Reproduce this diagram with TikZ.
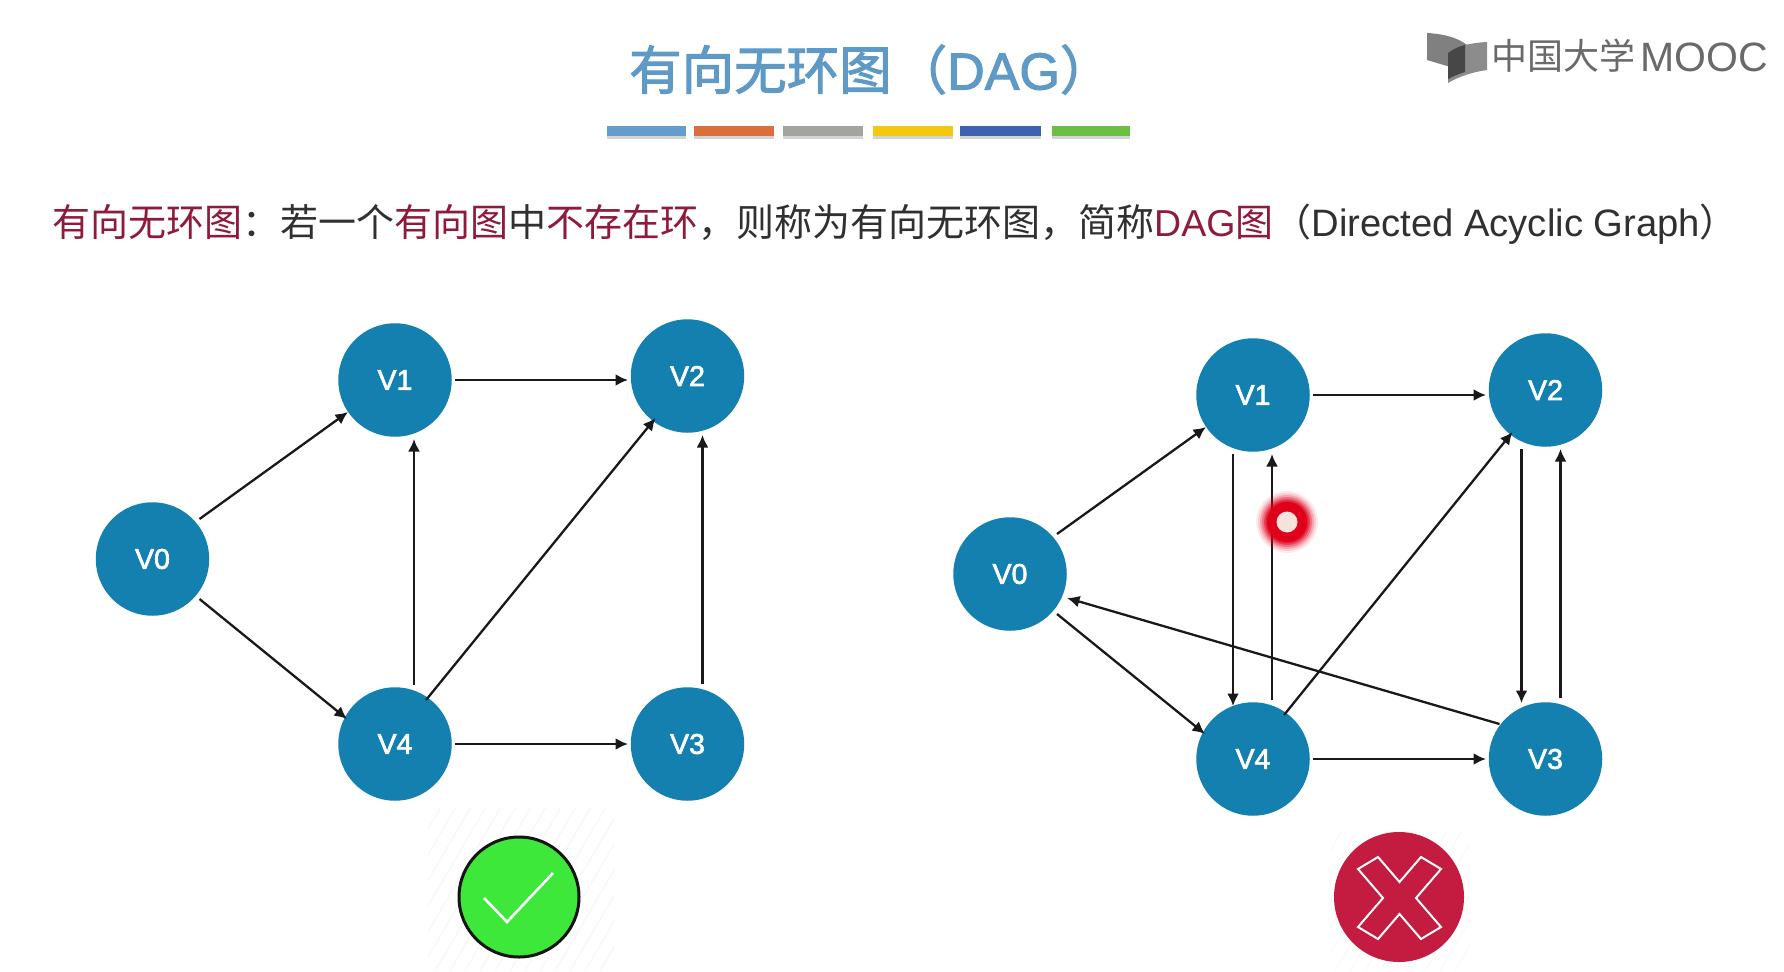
\documentclass[tikz,border=0pt]{standalone}
\usepackage{fontspec}
\setmainfont{Noto Sans CJK SC}
\newfontfamily\lat{Liberation Sans}
\newfontfamily\latmid[FakeBold=2.2]{Liberation Sans}
\newfontfamily\headcjk[FakeBold=2]{Noto Sans CJK SC}
\newfontfamily\headlat[FakeBold=2]{Liberation Sans}
\usetikzlibrary{arrows.meta,calc}
\definecolor{nodeblue}{HTML}{1380B0}
\definecolor{titleblue}{HTML}{5F9AC6}
\definecolor{keyred}{HTML}{8E1B3C}
\definecolor{bodyink}{HTML}{303030}
\definecolor{logogray}{HTML}{6A6A6A}
\definecolor{barA}{HTML}{659CCB}
\definecolor{barB}{HTML}{D86F3C}
\definecolor{barC}{HTML}{A3A3A0}
\definecolor{barD}{HTML}{F2C811}
\definecolor{barE}{HTML}{3F62B0}
\definecolor{barF}{HTML}{6CBF44}
\definecolor{okgreen}{HTML}{3DE83A}
\definecolor{badred}{HTML}{C41B40}
\definecolor{pointerred}{HTML}{E0001A}
\definecolor{pointercore}{HTML}{F5E2DA}
\tikzset{
  vertex/.style={circle,fill=nodeblue,minimum size=113.5pt,inner sep=0pt,outer sep=0pt,text=white,font=\latmid\fontsize{28.5}{30}\selectfont},
  edgeline/.style={draw=black!90,line width=2.3pt,-{Latex[length=12.5pt,width=12pt]}}
}
\newcommand{\barpiece}[3]{%
  \fill[black!30,opacity=.55] (#1,128) rectangle (#2,139);
  \fill[#3] (#1,126) rectangle (#2,136);
}
\begin{document}
\begin{tikzpicture}[x=1pt,y=-1pt]
\useasboundingbox (0,0) rectangle (1784,971);
\fill[white] (0,0) rectangle (1784,971);

% Heading
\node[anchor=base west,inner sep=0pt,text=titleblue,font=\headcjk\fontsize{52.5}{56}\selectfont] (title) at (629,89.5)
  {有向无环图\hspace{3pt}（{\headlat\fontsize{52}{56}\selectfont DAG}）};
\barpiece{607}{686}{barA}
\barpiece{694}{774}{barB}
\barpiece{783}{863}{barC}
\barpiece{873}{953}{barD}
\barpiece{960}{1041}{barE}
\barpiece{1052}{1130}{barF}

% Publisher mark
\fill[black!50] (1427,33) .. controls (1445,34) and (1458,38) .. (1467,45) -- (1467,72) -- (1427,60) -- cycle;
\fill[black!45] (1448,83) -- (1448,53) .. controls (1456,46) and (1470,43) .. (1487,42) -- (1487,70) .. controls (1472,72) and (1458,77) .. (1448,83) -- cycle;
\fill[black!72] (1448,53) .. controls (1453,49) and (1460,46) .. (1465,45) -- (1465,72) .. controls (1458,74) and (1452,77) .. (1448,79) -- cycle;
\node[anchor=base west,inner sep=0pt,text=logogray,font=\fontsize{36}{38}\selectfont] (logo) at (1491,70)
  {中国大学\hspace{5pt}\raisebox{-1.5pt}{\lat\fontsize{41}{41}\selectfont MOOC}};

% Definition line
\node[anchor=base west,inner sep=0pt,text=bodyink,font=\fontsize{38}{40}\selectfont] (definition) at (52,236)
  {\textcolor{keyred}{有向无环图}：若一个\textcolor{keyred}{有向图}中\textcolor{keyred}{不存在环}，则称为有向无环图，简称\textcolor{keyred}{{\lat\fontsize{37.5}{40}\selectfont DAG}图}（{\lat\fontsize{38.2}{40}\selectfont Directed Acyclic Graph}）};

% Acyclic graph
\node[vertex] (a0) at (152.5,559) {V0};
\node[vertex] (a1) at (395,380) {V1};
\node[vertex] (a2) at (687.5,376) {V2};
\node[vertex] (a3) at (687.5,744) {V3};
\node[vertex] (a4) at (395,744) {V4};
\draw[edgeline] ($(a0)+(47,-40)$) -- ($(a1)+(-47,32)$);
\draw[edgeline] ($(a0)+(47,40)$) -- ($(a4)+(-48,-25)$);
\draw[edgeline] ($(a1)+(60,0)$) -- ($(a2)+(-59.5,4)$);
\draw[edgeline] ($(a4)+(19,-59)$) -- ($(a1)+(19,59)$);
\draw[edgeline] ($(a4)+(31,-44)$) -- ($(a2)+(-32,42)$);
\draw[edgeline] ($(a3)+(15,-60)$) -- ($(a2)+(15,59)$);
\draw[edgeline] ($(a4)+(60,0)$) -- ($(a3)+(-59.5,0)$);

% Graph containing cycles
\node[vertex] (b0) at (1010,574) {V0};
\node[vertex] (b1) at (1253,395) {V1};
\node[vertex] (b2) at (1545.5,390) {V2};
\node[vertex] (b3) at (1545.5,759) {V3};
\node[vertex] (b4) at (1253,759) {V4};
\draw[edgeline] ($(b0)+(47,-40)$) -- ($(b1)+(-47,32)$);
\draw[edgeline] ($(b0)+(47,40)$) -- ($(b4)+(-48,-25)$);
\draw[edgeline] ($(b1)+(60,0)$) -- ($(b2)+(-59.5,5)$);
\draw[edgeline] ($(b1)+(-20,59)$) -- ($(b4)+(-20,-53)$);
\draw[edgeline] ($(b4)+(19,-59)$) -- ($(b1)+(19,59)$);
\draw[edgeline] ($(b4)+(31,-44)$) -- ($(b2)+(-33,42)$);
\draw[edgeline] ($(b2)+(-24,59)$) -- ($(b3)+(-24,-56)$);
\draw[edgeline] ($(b3)+(15,-61)$) -- ($(b2)+(15,59)$);
\draw[edgeline] ($(b3)+(-46,-35)$) -- ($(b0)+(57,24)$);
\draw[edgeline] ($(b4)+(60,0)$) -- ($(b3)+(-59.5,0)$);

% Faint hatching behind the verdict badges
\begin{scope}
  \clip (428,808) rectangle (614,971);
  \foreach \s in {330,345,...,610}
    \draw[black!3,line width=1.2pt] (\s,971) -- (\s+100,800);
\end{scope}
\begin{scope}
  \clip (1330,832) rectangle (1470,971);
  \foreach \s in {1230,1245,...,1480}
    \draw[black!2,line width=1.2pt] (\s,971) -- (\s+100,800);
\end{scope}

% Verdict badges
\fill[okgreen,draw=black!92,line width=3pt] (519,897) circle (60pt);
\draw[white,line width=2.6pt,line join=miter] (484,898) -- (507,922) -- (553,873);
\fill[badred] (1399,897) circle (65pt);
\draw[white,line width=2pt,line join=miter]
  (1399.5,882) -- (1421,857) -- (1441,869) -- (1416,898) -- (1441,927) -- (1421,939)
  -- (1399.5,914) -- (1378,939) -- (1358,927) -- (1383,898) -- (1358,869) -- (1378,857) -- cycle;

% Presenter's pointer
\foreach \r/\o in {31/.08,29/.12,27/.2,25/.3,23/.4,21.5/.5}
  \fill[pointerred,opacity=\o] (1287,522) circle (\r pt);
\fill[pointerred] (1287,522) circle (20pt);
\fill[pointercore] (1287,522) circle (10.5pt);
\end{tikzpicture}
\end{document}
